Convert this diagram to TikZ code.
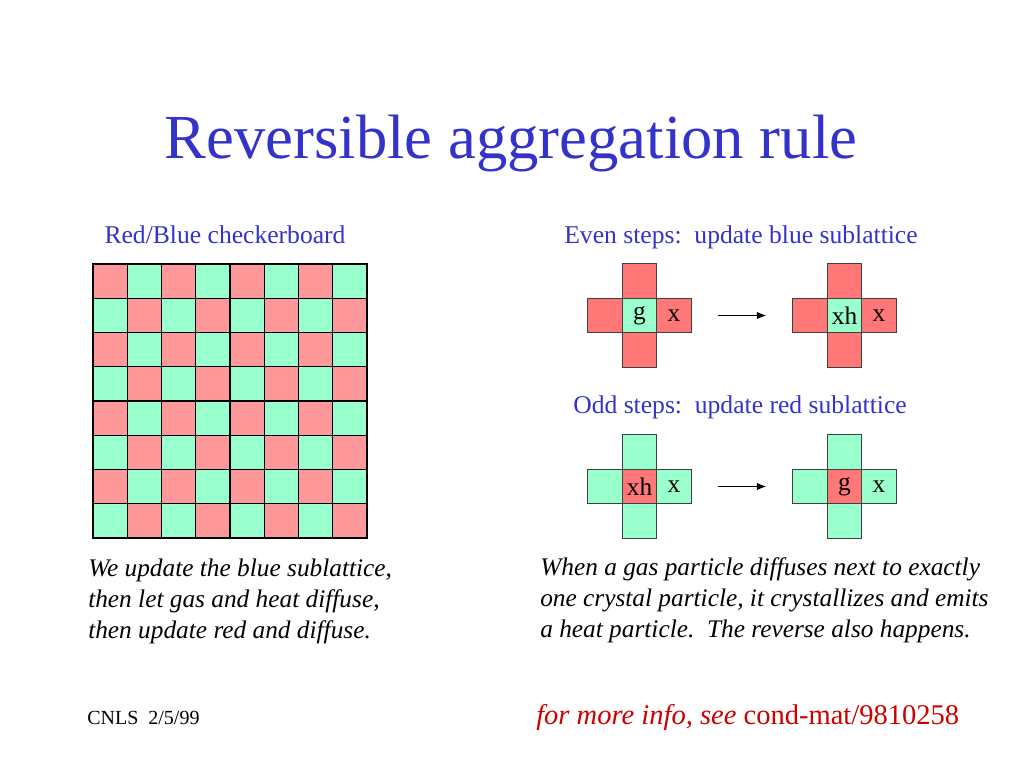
\documentclass[tikz,border=0pt]{standalone}
\usepackage{fontspec}
\setmainfont{Liberation Serif}
\usetikzlibrary{positioning,arrows.meta}

\definecolor{checker0}{HTML}{FF9999}
\definecolor{checker1}{HTML}{99FFCC}
\definecolor{crossred}{HTML}{FF7777}
\definecolor{crossgreen}{HTML}{99FFCC}
\definecolor{titleblue}{HTML}{3333CC}
\definecolor{infored}{HTML}{CC0000}

\tikzset{
  cell/.style={draw=black!75, line width=0.6pt, minimum size=25.9pt, inner sep=0pt,
    font=\fontsize{19}{19}\selectfont},
  redcell/.style={cell, fill=crossred},
  greencell/.style={cell, fill=crossgreen},
  heading/.style={text=titleblue, font=\fontsize{19.2}{22}\selectfont, anchor=base},
  remark/.style={align=left, anchor=base west, inner sep=0pt,
    font=\fontsize{19}{22.9}\selectfont\itshape},
}

\begin{document}
\begin{tikzpicture}[x=0.75pt,y=-0.75pt,node distance=25.9pt,on grid]
    \useasboundingbox (0,0) rectangle (1024,768);

    \node[text=titleblue, font=\fontsize{47}{47}\selectfont, anchor=base] (title) at (511,158)
      {Reversible aggregation rule};

    % checkerboard
    \node[heading] (boardhead) at (225,243) {Red/Blue checkerboard};
    \foreach \i in {0,...,7}
      \foreach \j in {0,...,7} {
        \pgfmathtruncatemacro\k{mod(\i+\j,2)}
        \filldraw[fill=checker\k, draw=black, line width=0.9pt]
          (93+34.25*\j,264+34.25*\i) rectangle ++(34.25,34.25);
      }

    % even steps
    \node[heading] (evenhead) at (741,243) {Even steps:\ \ update blue sublattice};
    \node[greencell] (ec1) at (639.5,315.5) {g};
    \node[redcell]   (en1) [above=of ec1] {};
    \node[redcell]   (es1) [below=of ec1] {};
    \node[redcell]   (ew1) [left=of ec1]  {};
    \node[redcell]   (ee1) [right=of ec1] {x};
    \node[greencell] (ec2) at (844.5,315.5) {xh};
    \node[redcell]   (en2) [above=of ec2] {};
    \node[redcell]   (es2) [below=of ec2] {};
    \node[redcell]   (ew2) [left=of ec2]  {};
    \node[redcell]   (ee2) [right=of ec2] {x};

    % odd steps
    \node[heading] (oddhead) at (740,413) {Odd steps:\ \ update red sublattice};
    \node[redcell]   (oc1) at (639.5,486.5) {xh};
    \node[greencell] (on1) [above=of oc1] {};
    \node[greencell] (os1) [below=of oc1] {};
    \node[greencell] (ow1) [left=of oc1]  {};
    \node[greencell] (oe1) [right=of oc1] {x};
    \node[redcell]   (oc2) at (844.5,486.5) {g};
    \node[greencell] (on2) [above=of oc2] {};
    \node[greencell] (os2) [below=of oc2] {};
    \node[greencell] (ow2) [left=of oc2]  {};
    \node[greencell] (oe2) [right=of oc2] {x};

    \path[-{Latex[length=7pt,width=5.5pt]}, line width=0.8pt, shorten <=19.5pt, shorten >=19.5pt]
      (ee1.east) edge (ew2.west)
      (oe1.east) edge (ow2.west);

    % remarks
    \node[remark] (leftnote) at (88,638)
      {We update the blue sublattice,\\then let gas and heat diffuse,\\then update red and diffuse.};
    \node[remark] (rightnote) at (540,637)
      {When a gas particle diffuses next to exactly\\one crystal particle, it crystallizes and emits\\a heat particle.\ \ The reverse also happens.};

    \node[anchor=base west, inner sep=0pt, font=\fontsize{15}{15}\selectfont] (footer) at (87,724)
      {CNLS\ \ 2/5/99};
    \node[anchor=base west, inner sep=0pt, text=infored, font=\fontsize{21.4}{22}\selectfont] (info) at (536,724)
      {\textit{for more info, see} cond-mat/9810258};
  \end{tikzpicture}
\end{document}
